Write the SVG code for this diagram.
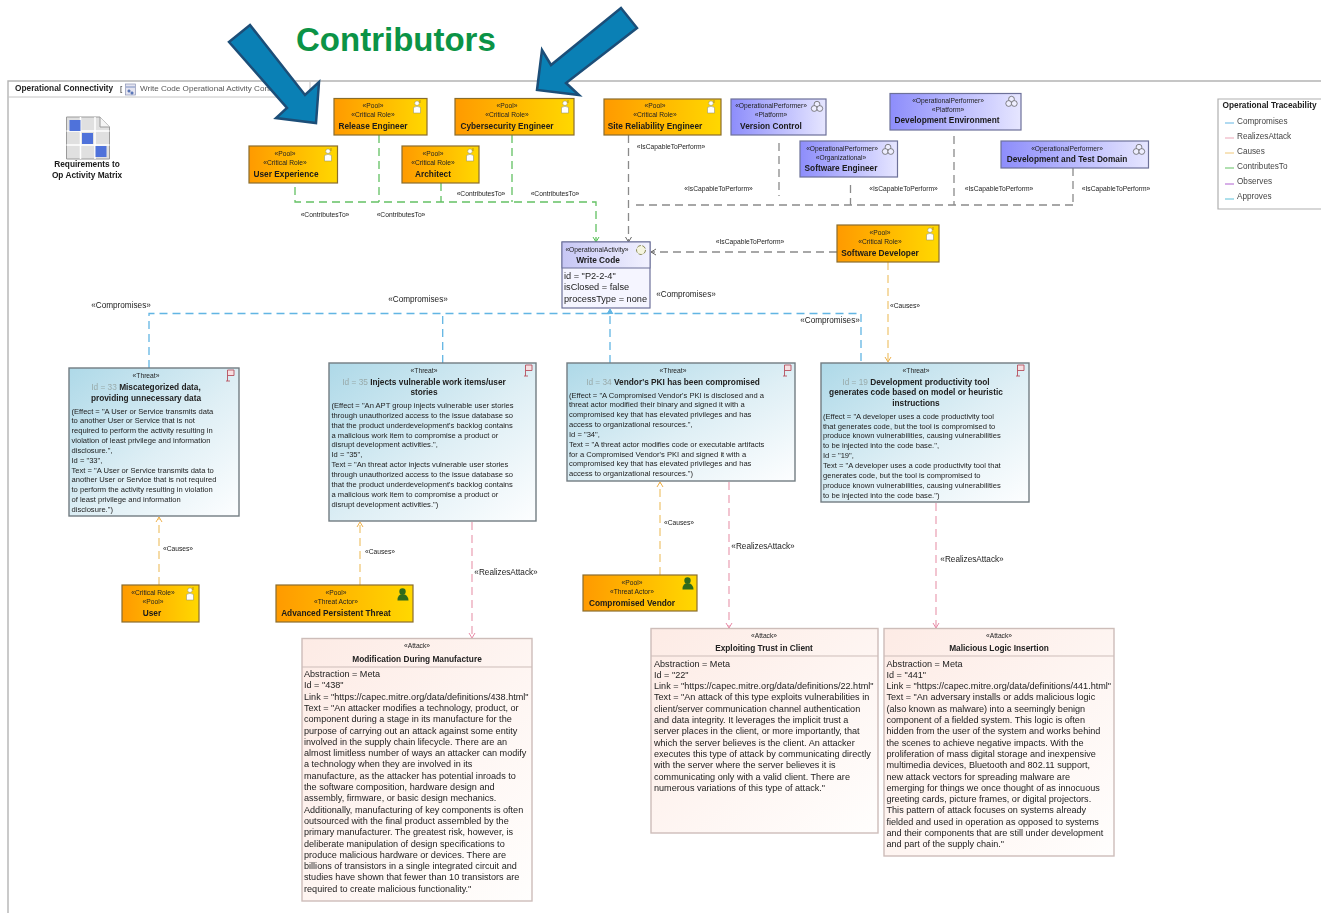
<svg xmlns="http://www.w3.org/2000/svg" xmlns:xlink="http://www.w3.org/1999/xlink" width="1321" height="913" viewBox="0 0 1321 913">
<style>
text{font-family:"Liberation Sans",Arial,sans-serif;fill:#222}
.st{font-size:6.7px;text-anchor:middle}
.nm{font-size:8.3px;font-weight:bold;text-anchor:middle;fill:#1a1a1a}
.pr{stroke:#8a6d2c;stroke-width:1.2;fill:url(#gO)}
.pu{stroke:#6d7199;stroke-width:1.2;fill:url(#gP)}
.th{stroke:#727c82;stroke-width:1.4;fill:url(#gT)}
.at{stroke:#cdbdb9;stroke-width:1.4;fill:url(#gA)}
.div{stroke:#cdbdb9;stroke-width:1;fill:none}
.tt{font-size:8.3px;font-weight:bold;text-anchor:middle}
.gy{font-weight:normal;fill:#9aa}
.bd{font-size:7.58px}
.ab{font-size:9.1px}
.lb{font-size:6.7px;text-anchor:middle}
.lc{font-size:8.2px;text-anchor:middle}
.lg{font-size:8.2px;fill:#444}
.c{fill:none;stroke-width:1.3;stroke-dasharray:8 5}
.cG{stroke:#63c163}.cK{stroke:#8a8a8a}.cB{stroke:#62b5e3}.cO{stroke:#f0c878}.cR{stroke:#eba6b8}
.blur{filter:url(#soft)}
</style>
<defs>
<filter id="soft" x="-2%" y="-2%" width="104%" height="104%"><feGaussianBlur stdDeviation="0.4"/></filter>
<linearGradient id="gO" x1="0" y1="0" x2="1" y2="0"><stop offset="0" stop-color="#ff9a00"/><stop offset="1" stop-color="#ffd800"/></linearGradient>
<linearGradient id="gP" x1="0" y1="0" x2="1" y2="0"><stop offset="0" stop-color="#8d8dfb"/><stop offset="1" stop-color="#e6e6ff"/></linearGradient>
<linearGradient id="gW" x1="0" y1="0" x2="1" y2="0"><stop offset="0" stop-color="#c6c6f4"/><stop offset="1" stop-color="#f2f2ff"/></linearGradient>
<linearGradient id="gT" x1="0" y1="0" x2="1" y2="1"><stop offset="0" stop-color="#aed9e8"/><stop offset=".55" stop-color="#dfeff5"/><stop offset="1" stop-color="#fdfeff"/></linearGradient>
<linearGradient id="gA" x1="0" y1="0" x2="1" y2="1"><stop offset="0" stop-color="#fdebe5"/><stop offset="1" stop-color="#fffefd"/></linearGradient>
<marker id="aG" markerWidth="8" markerHeight="8" refX="6" refY="4" orient="auto" markerUnits="userSpaceOnUse"><path d="M1 1L6 4L1 7" fill="none" stroke="#4fc04f"/></marker>
<marker id="aK" markerWidth="8" markerHeight="8" refX="6" refY="4" orient="auto" markerUnits="userSpaceOnUse"><path d="M1 1L6 4L1 7" fill="none" stroke="#666"/></marker>
<marker id="aB" markerWidth="8" markerHeight="8" refX="6" refY="4" orient="auto" markerUnits="userSpaceOnUse"><path d="M1 1L6 4L1 7" fill="#62b5e3" stroke="#62b5e3"/></marker>
<marker id="aO" markerWidth="8" markerHeight="8" refX="6" refY="4" orient="auto" markerUnits="userSpaceOnUse"><path d="M1 1L6 4L1 7" fill="none" stroke="#eeb04c"/></marker>
<marker id="aR" markerWidth="8" markerHeight="8" refX="6" refY="4" orient="auto" markerUnits="userSpaceOnUse"><path d="M1 1L6 4L1 7" fill="none" stroke="#e889a6"/></marker>
<symbol id="person" width="10" height="14" viewBox="0 0 10 14" overflow="visible"><circle cx="5" cy="3.200" r="2.300" fill="#fff" stroke="#8a8a6a" stroke-width=".5"/><path d="M1.500 13V7.500Q5 5 8.500 7.500V13Z" fill="#fff" stroke="#8a8a6a" stroke-width=".5"/><path d="M8 0V3" stroke="#8a6d2c" stroke-width=".6"/></symbol>
<symbol id="actor" width="12" height="13" viewBox="0 0 12 13" overflow="visible"><circle cx="5.500" cy="3.500" r="3.200" fill="#2f6b1d"/><path d="M0.500 12.500Q0.500 6 5.500 6Q11 6 11.500 12.500Z" fill="#2f6b1d"/></symbol>
<symbol id="perf" width="12" height="11" viewBox="0 0 12 11" overflow="visible"><g fill="#eef" stroke="#555" stroke-width=".7"><circle cx="6" cy="3.200" r="2.900"/><circle cx="3.200" cy="7.500" r="2.900"/><circle cx="8.800" cy="7.500" r="2.900"/></g></symbol>
<symbol id="flag" width="9" height="12" viewBox="0 0 9 12" overflow="visible"><path d="M1.500 12V1H8V6.500H1.500M0 12H4" fill="#f6dfe2" stroke="#b5505e" stroke-width=".9"/></symbol>
</defs>
<rect width="1321" height="913" fill="#fff"/>
<g class="blur">
<g id="frame">
<path d="M1321 81H8V913" fill="none" stroke="#b4b4b4" stroke-width="1.4"/>
<path d="M8 97H310V81" fill="none" stroke="#c4c4c4" stroke-width="1"/>
<text x="15" y="91" font-size="8.3" font-weight="bold">Operational Connectivity</text>
<text x="120" y="91" font-size="8">[</text>
<rect x="125.500" y="84" width="10" height="11" fill="#e4e4f0" stroke="#8a93b4" stroke-width=".7"/>
<path d="M126 87H135M128 90h2v2h-2zM131 92h2v2h-2z" stroke="#4e6fb0" stroke-width=".7" fill="#6d86c9"/>
<text x="140" y="91" font-size="8.100" style="fill:#555">Write Code Operational Activity Connectivity</text>
</g>
<g id="matrix">
<path d="M66.500 117H100L109.500 127V159H66.500Z" fill="#e0e0e0" stroke="#9a9a9a"/>
<path d="M80.500 117V159M95 117V159M66.500 131H109.500M66.500 145H109.500" stroke="#fff" stroke-width="1.500"/>
<rect x="69.500" y="120" width="11" height="11" fill="#4f72da"/><rect x="82" y="133" width="11" height="11" fill="#4f72da"/><rect x="95.500" y="146" width="11" height="11" fill="#4f72da"/>
<path d="M100 117V127H109.500" fill="#f5f5f5" stroke="#9a9a9a"/>
<text x="87" y="167" class="nm" style="font-size:8.300px">Requirements to</text>
<text x="87" y="178" class="nm" style="font-size:8.300px">Op Activity Matrix</text>
</g>
<g id="connectors">
<path class="c cG" d="M295 187V202H596V242" marker-end="url(#aG)"/>
<path class="c cG" d="M379 135V202M441 183V202M512 135V202"/>
<path class="c cK" d="M628.500 135V242" marker-end="url(#aK)"/>
<path class="c cK" d="M636 205H1073M779 143V196M850.500 185V205M954 136V205M1073 168V205"/>
<path class="c cK" d="M837 252H651" marker-end="url(#aK)"/>
<path class="c cB" d="M149 368V313.500H861V363M442.700 363V314"/>
<path class="c cB" d="M610 363V309" marker-end="url(#aB)"/>
<path class="c cO" d="M888 262V362" marker-end="url(#aO)"/>
<path class="c cO" d="M159 585V517" marker-end="url(#aO)"/>
<path class="c cO" d="M360 585V522" marker-end="url(#aO)"/>
<path class="c cO" d="M660 575V482" marker-end="url(#aO)"/>
<path class="c cR" d="M472 522V638" marker-end="url(#aR)"/>
<path class="c cR" d="M729 482V628" marker-end="url(#aR)"/>
<path class="c cR" d="M936 503V628" marker-end="url(#aR)"/>
<g class="lbs">
<text class="lb" x="481" y="196">«ContributesTo»</text><text class="lb" x="555" y="196">«ContributesTo»</text><text class="lb" x="325" y="217">«ContributesTo»</text><text class="lb" x="401" y="217">«ContributesTo»</text>
<text class="lb" x="671" y="149">«IsCapableToPerform»</text><text class="lb" x="718.500" y="191">«IsCapableToPerform»</text><text class="lb" x="903.500" y="191">«IsCapableToPerform»</text><text class="lb" x="999" y="191">«IsCapableToPerform»</text><text class="lb" x="1116" y="191">«IsCapableToPerform»</text><text class="lb" x="750" y="244">«IsCapableToPerform»</text>
<text class="lc" x="121" y="307.500">«Compromises»</text><text class="lc" x="418" y="302">«Compromises»</text><text class="lc" x="686" y="297">«Compromises»</text><text class="lc" x="830" y="323">«Compromises»</text>
<text class="lb" x="905" y="308">«Causes»</text><text class="lb" x="178" y="551">«Causes»</text><text class="lb" x="380" y="554">«Causes»</text><text class="lb" x="679" y="525">«Causes»</text>
<text class="lc" x="506" y="575">«RealizesAttack»</text><text class="lc" x="763" y="549">«RealizesAttack»</text><text class="lc" x="972" y="562">«RealizesAttack»</text>
</g>
</g>
<g id="release-engineer"><rect class="pr" x="334" y="98.500" width="93" height="36.500"/><use href="#person" x="412" y="100"/><text class="st" x="373" y="108">«Pool»</text><text class="st" x="373" y="117">«Critical Role»</text><text class="nm" x="373" y="129">Release Engineer</text></g>
<g id="cybersecurity-engineer"><rect class="pr" x="455" y="98.500" width="119" height="36.500"/><use href="#person" x="560" y="100"/><text class="st" x="507" y="108">«Pool»</text><text class="st" x="507" y="117">«Critical Role»</text><text class="nm" x="507" y="129">Cybersecurity Engineer</text></g>
<g id="site-reliability-engineer"><rect class="pr" x="604" y="99" width="117" height="36"/><use href="#person" x="706" y="100"/><text class="st" x="655" y="108">«Pool»</text><text class="st" x="655" y="117">«Critical Role»</text><text class="nm" x="655" y="129">Site Reliability Engineer</text></g>
<g id="user-experience"><rect class="pr" x="249" y="146" width="88.500" height="37"/><use href="#person" x="323" y="148"/><text class="st" x="285" y="156">«Pool»</text><text class="st" x="285" y="165">«Critical Role»</text><text class="nm" x="286" y="176.500">User Experience</text></g>
<g id="architect"><rect class="pr" x="402" y="146" width="77" height="37"/><use href="#person" x="465" y="148"/><text class="st" x="433" y="156">«Pool»</text><text class="st" x="433" y="165">«Critical Role»</text><text class="nm" x="433" y="176.500">Architect</text></g>
<g id="version-control"><rect class="pu" x="731" y="99" width="95" height="36"/><use href="#perf" x="811" y="101"/><text class="st" x="771" y="108">«OperationalPerformer»</text><text class="st" x="771" y="117">«Platform»</text><text class="nm" x="771" y="129">Version Control</text></g>
<g id="development-environment"><rect class="pu" x="890" y="93.500" width="131" height="36.500"/><use href="#perf" x="1005.500" y="96"/><text class="st" x="948" y="103">«OperationalPerformer»</text><text class="st" x="948" y="112">«Platform»</text><text class="nm" x="947" y="123">Development Environment</text></g>
<g id="software-engineer"><rect class="pu" x="800" y="141" width="97.500" height="36"/><use href="#perf" x="882" y="144"/><text class="st" x="842" y="150.500">«OperationalPerformer»</text><text class="st" x="841" y="159.500">«Organizational»</text><text class="nm" x="841" y="171">Software Engineer</text></g>
<g id="development-test-domain"><rect class="pu" x="1001" y="141" width="147.500" height="27"/><use href="#perf" x="1133" y="144"/><text class="st" x="1067" y="150.500">«OperationalPerformer»</text><text class="nm" x="1067" y="162">Development and Test Domain</text></g>
<g id="software-developer"><rect class="pr" x="837" y="225" width="102" height="37"/><use href="#person" x="925" y="227"/><text class="st" x="880" y="235">«Pool»</text><text class="st" x="880" y="244">«Critical Role»</text><text class="nm" x="880" y="256">Software Developer</text></g>
<g id="write-code"><rect x="562" y="242" width="88" height="66" fill="#f5f5ff" stroke="#6d7199" stroke-width="1.200"/><rect x="562" y="242" width="88" height="26" fill="url(#gW)" stroke="#6d7199" stroke-width="1"/><circle cx="641" cy="250" r="4.500" fill="#f5f5e0" stroke="#8a8a5a" stroke-dasharray="4 1.500"/><text class="st" x="597" y="251.500">«OperationalActivity»</text><text class="nm" x="598" y="262.500">Write Code</text><g style="font-size:9.200px"><text x="564" y="278.500">id = "P2-2-4"</text><text x="564" y="290">isClosed = false</text><text x="564" y="301.500">processType = none</text></g></g>
<g id="threat-33"><rect class="th" x="69" y="368" width="170" height="148"/><use href="#flag" x="226" y="369"/><text class="st" x="146" y="378">«Threat»</text><text class="tt" x="146" y="389.500"><tspan class="gy">Id = 33 </tspan>Miscategorized data,</text><text class="tt" x="146" y="400.500">providing unnecessary data</text>
<text class="bd" x="71.500" y="413.500">(Effect = "A User or Service transmits data</text><text class="bd" x="71.500" y="423.300">to another User or Service that is not</text><text class="bd" x="71.500" y="433.200">required to perform the activity resulting in</text><text class="bd" x="71.500" y="443">violation of least privilege and information</text><text class="bd" x="71.500" y="452.900">disclosure.",</text><text class="bd" x="71.500" y="462.700">Id = "33",</text><text class="bd" x="71.500" y="472.600">Text = "A User or Service transmits data to</text><text class="bd" x="71.500" y="482.400">another User or Service that is not required</text><text class="bd" x="71.500" y="492.300">to perform the activity resulting in violation</text><text class="bd" x="71.500" y="502.100">of least privilege and information</text><text class="bd" x="71.500" y="512">disclosure.")</text></g>
<g id="threat-35"><rect class="th" x="329" y="363" width="207" height="158"/><use href="#flag" x="524" y="364"/><text class="st" x="424" y="373">«Threat»</text><text class="tt" x="424" y="384.500"><tspan class="gy">Id = 35 </tspan>Injects vulnerable work items/user</text><text class="tt" x="424" y="395">stories</text>
<text class="bd" x="331.500" y="408">(Effect = "An APT group injects vulnerable user stories</text><text class="bd" x="331.500" y="417.800">through unauthorized access to the issue database so</text><text class="bd" x="331.500" y="427.700">that the product underdevelopment's backlog contains</text><text class="bd" x="331.500" y="437.500">a malicious work item to compromise a product or</text><text class="bd" x="331.500" y="447.400">disrupt development activities.",</text><text class="bd" x="331.500" y="457.200">Id = "35",</text><text class="bd" x="331.500" y="467.100">Text = "An threat actor injects vulnerable user stories</text><text class="bd" x="331.500" y="476.900">through unauthorized access to the issue database so</text><text class="bd" x="331.500" y="486.800">that the product underdevelopment's backlog contains</text><text class="bd" x="331.500" y="496.600">a malicious work item to compromise a product or</text><text class="bd" x="331.500" y="506.500">disrupt development activities.")</text></g>
<g id="threat-34"><rect class="th" x="567" y="363" width="228" height="118"/><use href="#flag" x="783" y="364"/><text class="st" x="673" y="373">«Threat»</text><text class="tt" x="673" y="384.500"><tspan class="gy">Id = 34 </tspan>Vendor's PKI has been compromised</text>
<text class="bd" x="569" y="397.500">(Effect = "A Compromised Vendor's PKI is disclosed and a</text><text class="bd" x="569" y="407.300">threat actor modified their binary and signed it with a</text><text class="bd" x="569" y="417.200">compromised key that has elevated privileges and has</text><text class="bd" x="569" y="427">access to organizational resources.",</text><text class="bd" x="569" y="436.900">Id = "34",</text><text class="bd" x="569" y="446.700">Text = "A threat actor modifies code or executable artifacts</text><text class="bd" x="569" y="456.600">for a Compromised Vendor's PKI and signed it with a</text><text class="bd" x="569" y="466.400">compromised key that has elevated privileges and has</text><text class="bd" x="569" y="476.300">access to organizational resources.")</text></g>
<g id="threat-19"><rect class="th" x="821" y="363" width="208" height="139"/><use href="#flag" x="1016" y="364"/><text class="st" x="916" y="373">«Threat»</text><text class="tt" x="916" y="384.500"><tspan class="gy">Id = 19 </tspan>Development productivity tool</text><text class="tt" x="916" y="395">generates code based on model or heuristic</text><text class="tt" x="916" y="405.500">instructions</text>
<text class="bd" x="823" y="418.700">(Effect = "A developer uses a code productivity tool</text><text class="bd" x="823" y="428.500">that generates code, but the tool is compromised to</text><text class="bd" x="823" y="438.400">produce known vulnerabilities, causing vulnerabilities</text><text class="bd" x="823" y="448.200">to be injected into the code base.",</text><text class="bd" x="823" y="458.100">Id = "19",</text><text class="bd" x="823" y="467.900">Text = "A developer uses a code productivity tool that</text><text class="bd" x="823" y="477.800">generates code, but the tool is compromised to</text><text class="bd" x="823" y="487.600">produce known vulnerabilities, causing vulnerabilities</text><text class="bd" x="823" y="497.500">to be injected into the code base.")</text></g>
<g id="user"><rect class="pr" x="122" y="585" width="77" height="37"/><use href="#person" x="185" y="587"/><text class="st" x="153" y="595">«Critical Role»</text><text class="st" x="153" y="604">«Pool»</text><text class="nm" x="152" y="616">User</text></g>
<g id="advanced-persistent-threat"><rect class="pr" x="276" y="585" width="137" height="37"/><use href="#actor" x="397" y="588"/><text class="st" x="336" y="595">«Pool»</text><text class="st" x="336" y="604">«Threat Actor»</text><text class="nm" x="336" y="616">Advanced Persistent Threat</text></g>
<g id="compromised-vendor"><rect class="pr" x="583" y="575" width="114" height="36"/><use href="#actor" x="682" y="577"/><text class="st" x="632" y="585">«Pool»</text><text class="st" x="632" y="594">«Threat Actor»</text><text class="nm" x="632" y="606">Compromised Vendor</text></g>
<g id="attack-438"><rect class="at" x="302" y="638.500" width="230" height="262.500"/><path class="div" d="M302 667H532"/><text class="st" x="417" y="648">«Attack»</text><text class="tt" x="417" y="661.500">Modification During Manufacture</text>
<text class="ab" x="304" y="677">Abstraction = Meta</text><text class="ab" x="304" y="688.300">Id = "438"</text><text class="ab" x="304" y="699.600">Link = "https://capec.mitre.org/data/definitions/438.html"</text><text class="ab" x="304" y="710.900">Text = "An attacker modifies a technology, product, or</text><text class="ab" x="304" y="722.200">component during a stage in its manufacture for the</text><text class="ab" x="304" y="733.500">purpose of carrying out an attack against some entity</text><text class="ab" x="304" y="744.800">involved in the supply chain lifecycle. There are an</text><text class="ab" x="304" y="756.100">almost limitless number of ways an attacker can modify</text><text class="ab" x="304" y="767.400">a technology when they are involved in its</text><text class="ab" x="304" y="778.700">manufacture, as the attacker has potential inroads to</text><text class="ab" x="304" y="790">the software composition, hardware design and</text><text class="ab" x="304" y="801.300">assembly, firmware, or basic design mechanics.</text><text class="ab" x="304" y="812.600">Additionally, manufacturing of key components is often</text><text class="ab" x="304" y="823.900">outsourced with the final product assembled by the</text><text class="ab" x="304" y="835.200">primary manufacturer. The greatest risk, however, is</text><text class="ab" x="304" y="846.500">deliberate manipulation of design specifications to</text><text class="ab" x="304" y="857.800">produce malicious hardware or devices. There are</text><text class="ab" x="304" y="869.100">billions of transistors in a single integrated circuit and</text><text class="ab" x="304" y="880.400">studies have shown that fewer than 10 transistors are</text><text class="ab" x="304" y="891.700">required to create malicious functionality."</text></g>
<g id="attack-22"><rect class="at" x="651" y="628.500" width="227" height="204.500"/><path class="div" d="M651 656H878"/><text class="st" x="764" y="637.500">«Attack»</text><text class="tt" x="764" y="651">Exploiting Trust in Client</text>
<text class="ab" x="654" y="666.500">Abstraction = Meta</text><text class="ab" x="654" y="677.800">Id = "22"</text><text class="ab" x="654" y="689.100">Link = "https://capec.mitre.org/data/definitions/22.html"</text><text class="ab" x="654" y="700.400">Text = "An attack of this type exploits vulnerabilities in</text><text class="ab" x="654" y="711.700">client/server communication channel authentication</text><text class="ab" x="654" y="723">and data integrity. It leverages the implicit trust a</text><text class="ab" x="654" y="734.300">server places in the client, or more importantly, that</text><text class="ab" x="654" y="745.600">which the server believes is the client. An attacker</text><text class="ab" x="654" y="756.900">executes this type of attack by communicating directly</text><text class="ab" x="654" y="768.200">with the server where the server believes it is</text><text class="ab" x="654" y="779.500">communicating only with a valid client. There are</text><text class="ab" x="654" y="790.800">numerous variations of this type of attack."</text></g>
<g id="attack-441"><rect class="at" x="884" y="628.500" width="230" height="227.500"/><path class="div" d="M884 656H1114"/><text class="st" x="999" y="637.500">«Attack»</text><text class="tt" x="999" y="651">Malicious Logic Insertion</text>
<text class="ab" x="886.500" y="666.500">Abstraction = Meta</text><text class="ab" x="886.500" y="677.800">Id = "441"</text><text class="ab" x="886.500" y="689.100">Link = "https://capec.mitre.org/data/definitions/441.html"</text><text class="ab" x="886.500" y="700.400">Text = "An adversary installs or adds malicious logic</text><text class="ab" x="886.500" y="711.700">(also known as malware) into a seemingly benign</text><text class="ab" x="886.500" y="723">component of a fielded system. This logic is often</text><text class="ab" x="886.500" y="734.300">hidden from the user of the system and works behind</text><text class="ab" x="886.500" y="745.600">the scenes to achieve negative impacts. With the</text><text class="ab" x="886.500" y="756.900">proliferation of mass digital storage and inexpensive</text><text class="ab" x="886.500" y="768.200">multimedia devices, Bluetooth and 802.11 support,</text><text class="ab" x="886.500" y="779.500">new attack vectors for spreading malware are</text><text class="ab" x="886.500" y="790.800">emerging for things we once thought of as innocuous</text><text class="ab" x="886.500" y="802.100">greeting cards, picture frames, or digital projectors.</text><text class="ab" x="886.500" y="813.400">This pattern of attack focuses on systems already</text><text class="ab" x="886.500" y="824.700">fielded and used in operation as opposed to systems</text><text class="ab" x="886.500" y="836">and their components that are still under development</text><text class="ab" x="886.500" y="847.300">and part of the supply chain."</text></g>
<g id="legend"><path d="M1321 99H1218V209H1321" fill="#fff" stroke="#b0b0b0" stroke-width="1.200"/><text x="1222.500" y="108" font-size="8.300" font-weight="bold">Operational Traceability</text>
<path d="M1225 123h9" stroke="#62b5e3" fill="none"/><text class="lg" x="1237" y="123.500">Compromises</text>
<path d="M1225 138h9" stroke="#eba6b8" fill="none"/><text class="lg" x="1237" y="138.500">RealizesAttack</text>
<path d="M1225 153h9" stroke="#f0c878" fill="none"/><text class="lg" x="1237" y="153.500">Causes</text>
<path d="M1225 168h9" stroke="#63c163" fill="none"/><text class="lg" x="1237" y="168.500">ContributesTo</text>
<path d="M1225 184h9" stroke="#b060d0" fill="none"/><text class="lg" x="1237" y="184">Observes</text>
<path d="M1225 199h9" stroke="#5cc0d8" fill="none"/><text class="lg" x="1237" y="199">Approves</text></g>
</g>
<g id="callouts">
<text x="296" y="51" font-size="33" font-weight="bold" style="fill:#0b9346">Contributors</text>
<path id="arrow-left" d="M229 42L250 25L305 95L319 82L316 123L276 118L287 108Z" fill="#0a80b5" stroke="#1c4e78" stroke-width="2.500" stroke-linejoin="miter"/>
<path id="arrow-right" d="M621 8L637 28L566 83L579 95L537 90L542 50L551 65Z" fill="#0a80b5" stroke="#1c4e78" stroke-width="2.500" stroke-linejoin="miter"/>
</g>
</svg>
